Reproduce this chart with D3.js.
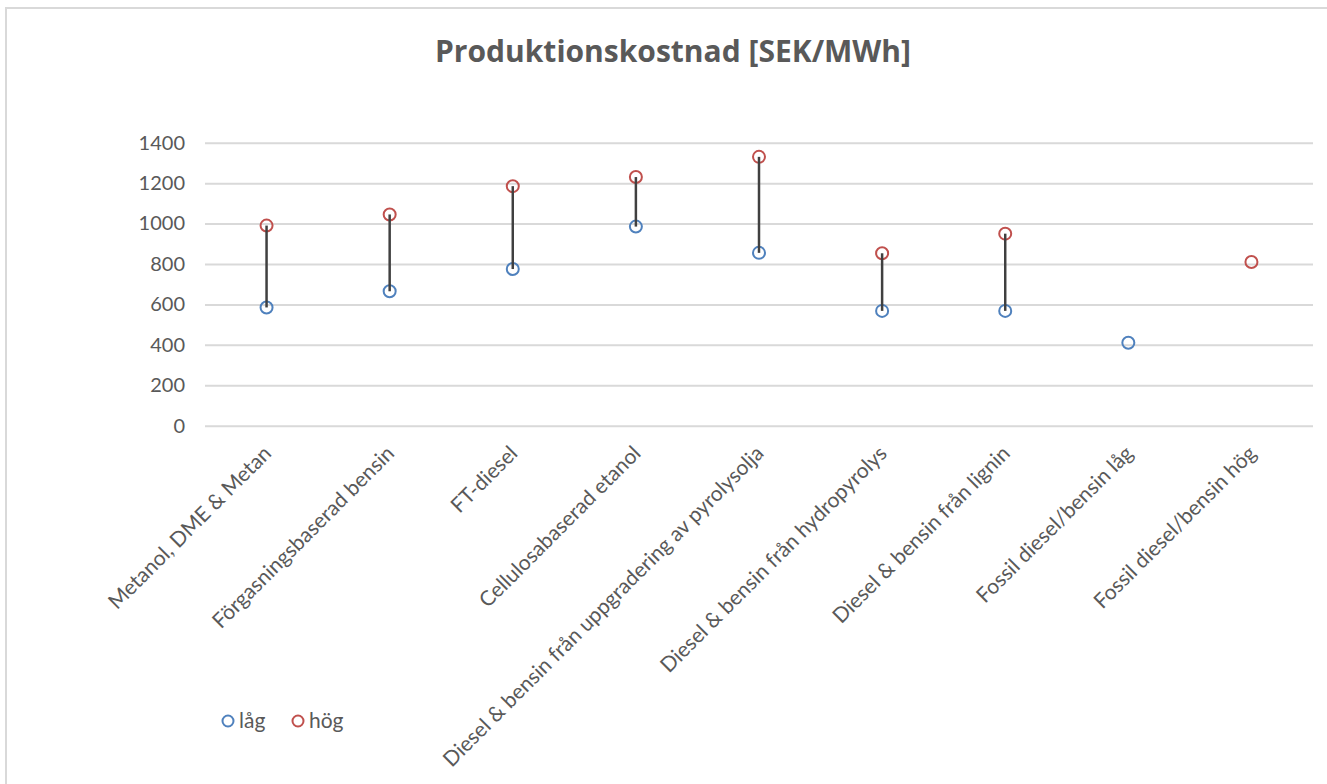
<!DOCTYPE html>
<html>
<head>
<meta charset="utf-8">
<script src="https://cdn.jsdelivr.net/npm/d3@7"></script>
<style>
  html, body { margin: 0; padding: 0; background: #fff; }
  svg { display: block; }
  text { font-family: "Open Sans", sans-serif; fill: #595959; }
</style>
</head>
<body>
<svg id="chart" width="1327" height="784"></svg>
<script>
// Production cost per fuel pathway, low and high estimates (SEK/MWh)
const categories = [
  "Metanol, DME & Metan",
  "Förgasningsbaserad bensin",
  "FT-diesel",
  "Cellulosabaserad etanol",
  "Diesel & bensin från uppgradering av pyrolysolja",
  "Diesel & bensin från hydropyrolys",
  "Diesel & bensin från lignin",
  "Fossil diesel/bensin låg",
  "Fossil diesel/bensin hög"
];
const lowValues  = [585, 665, 775, 985, 855, 568, 568, 410, null];
const highValues = [990, 1045, 1185, 1230, 1330, 853, 950, null, 810];
const yTicks = [0, 200, 400, 600, 800, 1000, 1200, 1400];
const seriesNames = ["låg", "hög"];
const seriesColors = ["#4F81BD", "#C0504D"];
const titleText = "Produktionskostnad [SEK/MWh]";

const labelFont = "Lato, 'Open Sans', sans-serif";

const svg = d3.select("#chart");

// Chart frame
svg.append("rect")
  .attr("x", 6).attr("y", 8)
  .attr("width", 1340).attr("height", 800)
  .attr("fill", "none")
  .attr("stroke", "#d9d9d9")
  .attr("stroke-width", 2);

const plot = { left: 205, right: 1313, top: 142.7, bottom: 425.7 };

const x = d3.scaleBand()
  .domain(categories)
  .range([plot.left, plot.right])
  .padding(0);

const y = d3.scaleLinear()
  .domain([0, 1400])
  .range([plot.bottom, plot.top]);

// Title
svg.append("text")
  .attr("x", 673)
  .attr("y", 62)
  .attr("text-anchor", "middle")
  .style("font-size", "30px")
  .style("font-weight", "bold")
  .style("font-family", "'Open Sans', sans-serif")
  .text(titleText);

// Gridlines and y tick labels
const yAxis = d3.axisLeft(y)
  .tickValues(yTicks)
  .tickSize(-(plot.right - plot.left))
  .tickPadding(20)
  .tickFormat(d3.format("d"));

const gy = svg.append("g")
  .attr("transform", `translate(${plot.left},0)`)
  .call(yAxis);
gy.select(".domain").remove();
gy.selectAll(".tick line")
  .attr("stroke", "#d9d9d9")
  .attr("stroke-width", 2);
gy.selectAll(".tick text")
  .style("font-size", "20px")
  .style("fill", "#595959")
  .style("font-family", labelFont);

// Category labels, rotated
const xAxis = d3.axisBottom(x).tickSize(0).tickPadding(0);
const gx = svg.append("g")
  .attr("transform", `translate(0,${plot.bottom})`)
  .call(xAxis);
gx.select(".domain").remove();
gx.selectAll(".tick text")
  .attr("text-anchor", "end")
  .attr("dy", "0")
  .attr("y", 0)
  .attr("transform", "translate(6,29) rotate(-45)")
  .style("font-size", "21px")
  .style("fill", "#595959")
  .style("font-family", labelFont);

const cx = d => x(d) + x.bandwidth() / 2;

// Markers
const seriesData = [lowValues, highValues];
seriesData.forEach((vals, si) => {
  svg.append("g")
    .selectAll("circle")
    .data(categories.map((c, i) => ({ c, v: vals[i] })).filter(d => d.v !== null))
    .join("circle")
    .attr("cx", d => cx(d.c))
    .attr("cy", d => y(d.v))
    .attr("r", 6)
    .attr("fill", "none")
    .attr("stroke", seriesColors[si])
    .attr("stroke-width", 2);
});

// High-low lines
svg.append("g")
  .selectAll("line")
  .data(categories.map((c, i) => ({ c, lo: lowValues[i], hi: highValues[i] }))
    .filter(d => d.lo !== null && d.hi !== null))
  .join("line")
  .attr("x1", d => cx(d.c)).attr("x2", d => cx(d.c))
  .attr("y1", d => y(d.lo)).attr("y2", d => y(d.hi))
  .attr("stroke", "#404040")
  .attr("stroke-width", 2.5);

// Legend
const legend = svg.append("g").attr("transform", "translate(228,721)");
const legendX = [0, 70];
seriesNames.forEach((name, i) => {
  const g = legend.append("g").attr("transform", `translate(${legendX[i]},0)`);
  g.append("circle")
    .attr("r", 5.5)
    .attr("fill", "none")
    .attr("stroke", seriesColors[i])
    .attr("stroke-width", 2);
  g.append("text")
    .attr("x", 11)
    .attr("y", 7)
    .style("font-size", "21px")
    .style("font-family", labelFont)
    .text(name);
});
</script>
</body>
</html>
